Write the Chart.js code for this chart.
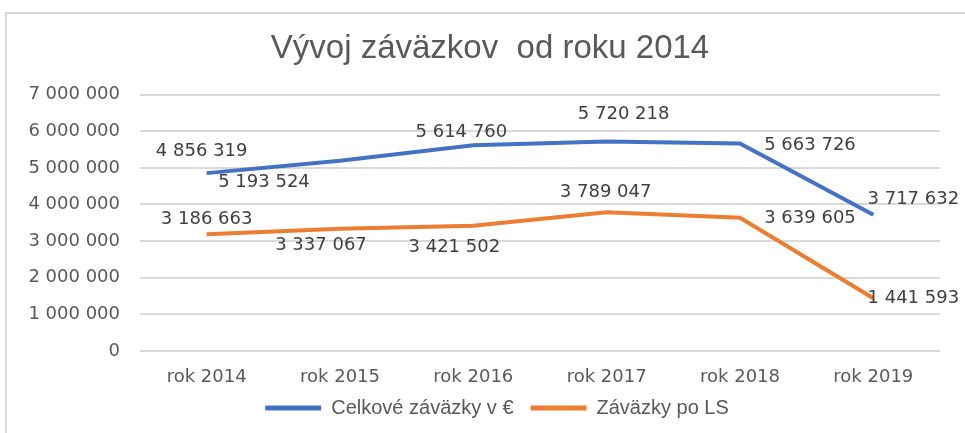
<!DOCTYPE html>
<html>
<head>
<meta charset="utf-8">
<script src="https://cdn.jsdelivr.net/npm/chart.js@4/dist/chart.umd.min.js"></script>
<style>
    html, body { margin: 0; padding: 0; background: #fff; overflow: hidden; }
    #wrap { position: relative; width: 965px; height: 433px; }
    #frame {
        position: absolute; left: 5px; top: 12px; width: 1000px; height: 500px;
        border-top: 2px solid #d9d9d9; border-left: 2px solid #d9d9d9;
    }
    canvas { position: absolute; left: 0; top: 0; }
</style>
</head>
<body>
<div id="wrap">
    <div id="frame"></div>
    <canvas id="debtChart" width="965" height="433"></canvas>
</div>
<script>
// data
const years = ['rok 2014', 'rok 2015', 'rok 2016', 'rok 2017', 'rok 2018', 'rok 2019'];
const totalDebt = [4856319, 5193524, 5614760, 5720218, 5663726, 3717632];
const debtAfterLS = [3186663, 3337067, 3421502, 3789047, 3639605, 1441593];
const seriesNames = ['Celkové záväzky v €', 'Záväzky po LS'];

// where each value label sits relative to its point [dx, dy]
const totalLabelOffsets = [[-5, -22], [-76, 22], [-12, -13], [17, -27], [70, 2], [40, -16]];
const lsLabelOffsets = [[0, -15], [-19, 17], [-19, 22], [-1, -20], [70, 1], [40, 0]];

const fmt = v => v.toLocaleString('en-US').replace(/,/g, ' ');

// draw value labels next to the points
const valueLabels = {
    id: 'valueLabels',
    afterDatasetsDraw(chart) {
        const ctx = chart.ctx;
        const offsets = [totalLabelOffsets, lsLabelOffsets];
        ctx.save();
        ctx.font = '18px "DejaVu Sans"';
        ctx.fillStyle = '#404040';
        ctx.textAlign = 'center';
        ctx.textBaseline = 'middle';
        chart.data.datasets.forEach((ds, i) => {
            chart.getDatasetMeta(i).data.forEach((pt, j) => {
                const [dx, dy] = offsets[i][j];
                ctx.fillText(fmt(ds.data[j]), pt.x + dx, pt.y + dy);
            });
        });
        ctx.restore();
    }
};

// title and legend sit a bit right of the canvas centre in the original
const nudgeBoxes = {
    id: 'nudgeBoxes',
    afterLayout(chart) {
        chart.titleBlock.left += 20;
        chart.titleBlock.right += 20;
        chart.legend.left += 27;
        chart.legend.right += 27;
        chart.legend.top -= 4;
        chart.legend.bottom -= 4;
    }
};

new Chart(document.getElementById('debtChart'), {
    type: 'line',
    data: {
        labels: years,
        datasets: [
            {
                label: seriesNames[0],
                data: totalDebt,
                borderColor: '#4472C4',
                backgroundColor: '#4472C4',
                borderWidth: 4,
                pointRadius: 0,
                tension: 0
            },
            {
                label: seriesNames[1],
                data: debtAfterLS,
                borderColor: '#ED7D31',
                backgroundColor: '#ED7D31',
                borderWidth: 4,
                pointRadius: 0,
                tension: 0
            }
        ]
    },
    options: {
        responsive: false,
        animation: false,
        layout: {
            padding: { top: 0, right: 25, bottom: 1, left: 0 }
        },
        plugins: {
            title: {
                display: true,
                text: 'Vývoj záväzkov  od roku 2014',
                color: '#595959',
                font: { family: '"Liberation Sans"', size: 33, weight: 'normal', lineHeight: 1.2 },
                padding: { top: 29, bottom: 26 }
            },
            legend: {
                position: 'bottom',
                labels: {
                    color: '#595959',
                    font: { family: '"Liberation Sans"', size: 20 },
                    boxWidth: 56,
                    boxHeight: 5,
                    padding: 17,
                    generateLabels: function(chart) {
                        const items = Chart.defaults.plugins.legend.labels.generateLabels(chart);
                        items.forEach(item => { item.lineWidth = 0; });
                        return items;
                    }
                }
            },
            tooltip: { enabled: false }
        },
        scales: {
            x: {
                offset: true,
                grid: { display: false },
                border: { display: false },
                ticks: {
                    color: '#595959',
                    font: { family: '"DejaVu Sans"', size: 18 },
                    padding: 8,
                    maxRotation: 0
                },
                afterFit: function(scale) { scale.height = 34; }
            },
            y: {
                min: 0,
                max: 7000000,
                grid: { color: '#d9d9d9', lineWidth: 2, drawTicks: false },
                border: { display: false },
                ticks: {
                    stepSize: 1000000,
                    color: '#595959',
                    font: { family: '"DejaVu Sans"', size: 18 },
                    padding: 20,
                    callback: v => fmt(v)
                },
                afterFit: function(scale) { scale.width = 140; }
            }
        }
    },
    plugins: [valueLabels, nudgeBoxes]
});
</script>
</body>
</html>
